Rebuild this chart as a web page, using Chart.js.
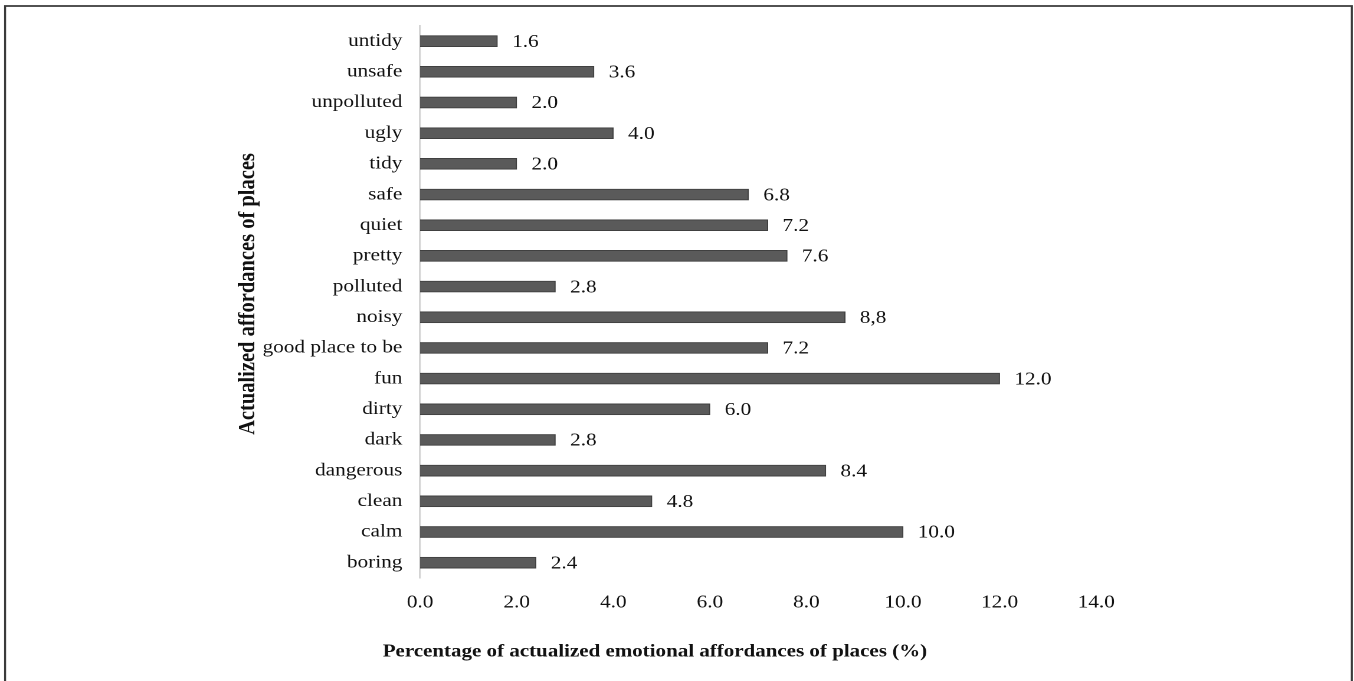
<!DOCTYPE html>
<html>
<head>
<meta charset="utf-8">
<script src="https://cdn.jsdelivr.net/npm/chart.js@4/dist/chart.umd.min.js"></script>
<style>
  html, body { margin: 0; padding: 0; background: #ffffff; overflow: hidden; }
  /* the figure is drawn narrow and widened, as in the printed version */
  #wrap { width: 1147px; height: 681px; transform: scaleX(1.18); transform-origin: 0 0; }
</style>
</head>
<body>
<div id="wrap"><canvas id="chart" width="1147" height="681"></canvas></div>
<script>
// Affordances, first entry drawn at the top
const affordances = [
  'untidy', 'unsafe', 'unpolluted', 'ugly', 'tidy', 'safe', 'quiet', 'pretty',
  'polluted', 'noisy', 'good place to be', 'fun', 'dirty', 'dark', 'dangerous',
  'clean', 'calm', 'boring'
];
// Share of actualized emotional affordances (%)
const percentages = [1.6, 3.6, 2.0, 4.0, 2.0, 6.8, 7.2, 7.6, 2.8, 8.8, 7.2, 12.0, 6.0, 2.8, 8.4, 4.8, 10.0, 2.4];
// Value labels as printed next to each bar
const valueLabels = ['1.6', '3.6', '2.0', '4.0', '2.0', '6.8', '7.2', '7.6', '2.8', '8,8', '7.2', '12.0', '6.0', '2.8', '8.4', '4.8', '10.0', '2.4'];
// Horizontal axis ticks
const xTicks = [0, 2, 4, 6, 8, 10, 12, 14];

const xTitle = 'Percentage of actualized emotional affordances of places (%)';
const yTitle = 'Actualized affordances of places';

const FONT = '"Liberation Serif", "Times New Roman", serif';

const decorations = {
  id: 'decorations',
  afterDatasetsDraw(chart) {
    const ctx = chart.ctx;
    const meta = chart.getDatasetMeta(0);
    ctx.save();
    ctx.font = '18px ' + FONT;
    ctx.fillStyle = '#111111';
    ctx.textAlign = 'left';
    ctx.textBaseline = 'middle';
    meta.data.forEach((bar, i) => {
      ctx.fillText(valueLabels[i], bar.x + 12.5, bar.y + 1);
    });
    ctx.restore();
  },
  afterDraw(chart) {
    const ctx = chart.ctx;
    ctx.save();
    // axis titles
    ctx.fillStyle = '#111111';
    ctx.textAlign = 'center';
    ctx.textBaseline = 'middle';
    ctx.font = 'bold 17.8px ' + FONT;
    ctx.fillText(xTitle, 555, 652);
    ctx.font = 'bold 20.5px ' + FONT;
    ctx.translate(210, 294);
    ctx.rotate(-Math.PI / 2);
    ctx.fillText(yTitle, 0, 0);
    ctx.restore();
    // outer frame
    ctx.save();
    ctx.strokeStyle = '#3a3a3a';
    ctx.lineWidth = 1.7;
    ctx.beginPath();
    ctx.moveTo(4.3, 700);
    ctx.lineTo(4.3, 6);
    ctx.lineTo(1145.6, 6);
    ctx.lineTo(1145.6, 700);
    ctx.stroke();
    ctx.restore();
  }
};

new Chart(document.getElementById('chart'), {
  type: 'bar',
  data: {
    labels: affordances,
    datasets: [{
      data: percentages,
      backgroundColor: '#5a5a5a',
      borderColor: '#404040',
      borderWidth: 1,
      barThickness: 11
    }]
  },
  options: {
    indexAxis: 'y',
    responsive: false,
    animation: false,
    devicePixelRatio: 2,
    layout: { padding: { top: 25, right: 218, bottom: 0, left: 0 } },
    plugins: {
      legend: { display: false },
      tooltip: { enabled: false }
    },
    scales: {
      x: {
        min: xTicks[0],
        max: xTicks[xTicks.length - 1],
        afterBuildTicks(scale) { scale.ticks = xTicks.map(v => ({ value: v })); },
        afterFit(scale) { scale.height = 103; },
        grid: { display: false, drawTicks: false },
        border: { display: false },
        ticks: {
          padding: 14,
          color: '#111111',
          font: { family: FONT, size: 18 },
          callback: v => Number(v).toFixed(1)
        }
      },
      y: {
        afterFit(scale) { scale.width = 356; },
        grid: { display: false, drawTicks: false },
        border: { display: true, color: '#d4d4d4', width: 1.6 },
        ticks: {
          padding: 15,
          color: '#111111',
          font: { family: FONT, size: 18 },
          autoSkip: false
        }
      }
    }
  },
  plugins: [decorations]
});
</script>
</body>
</html>
